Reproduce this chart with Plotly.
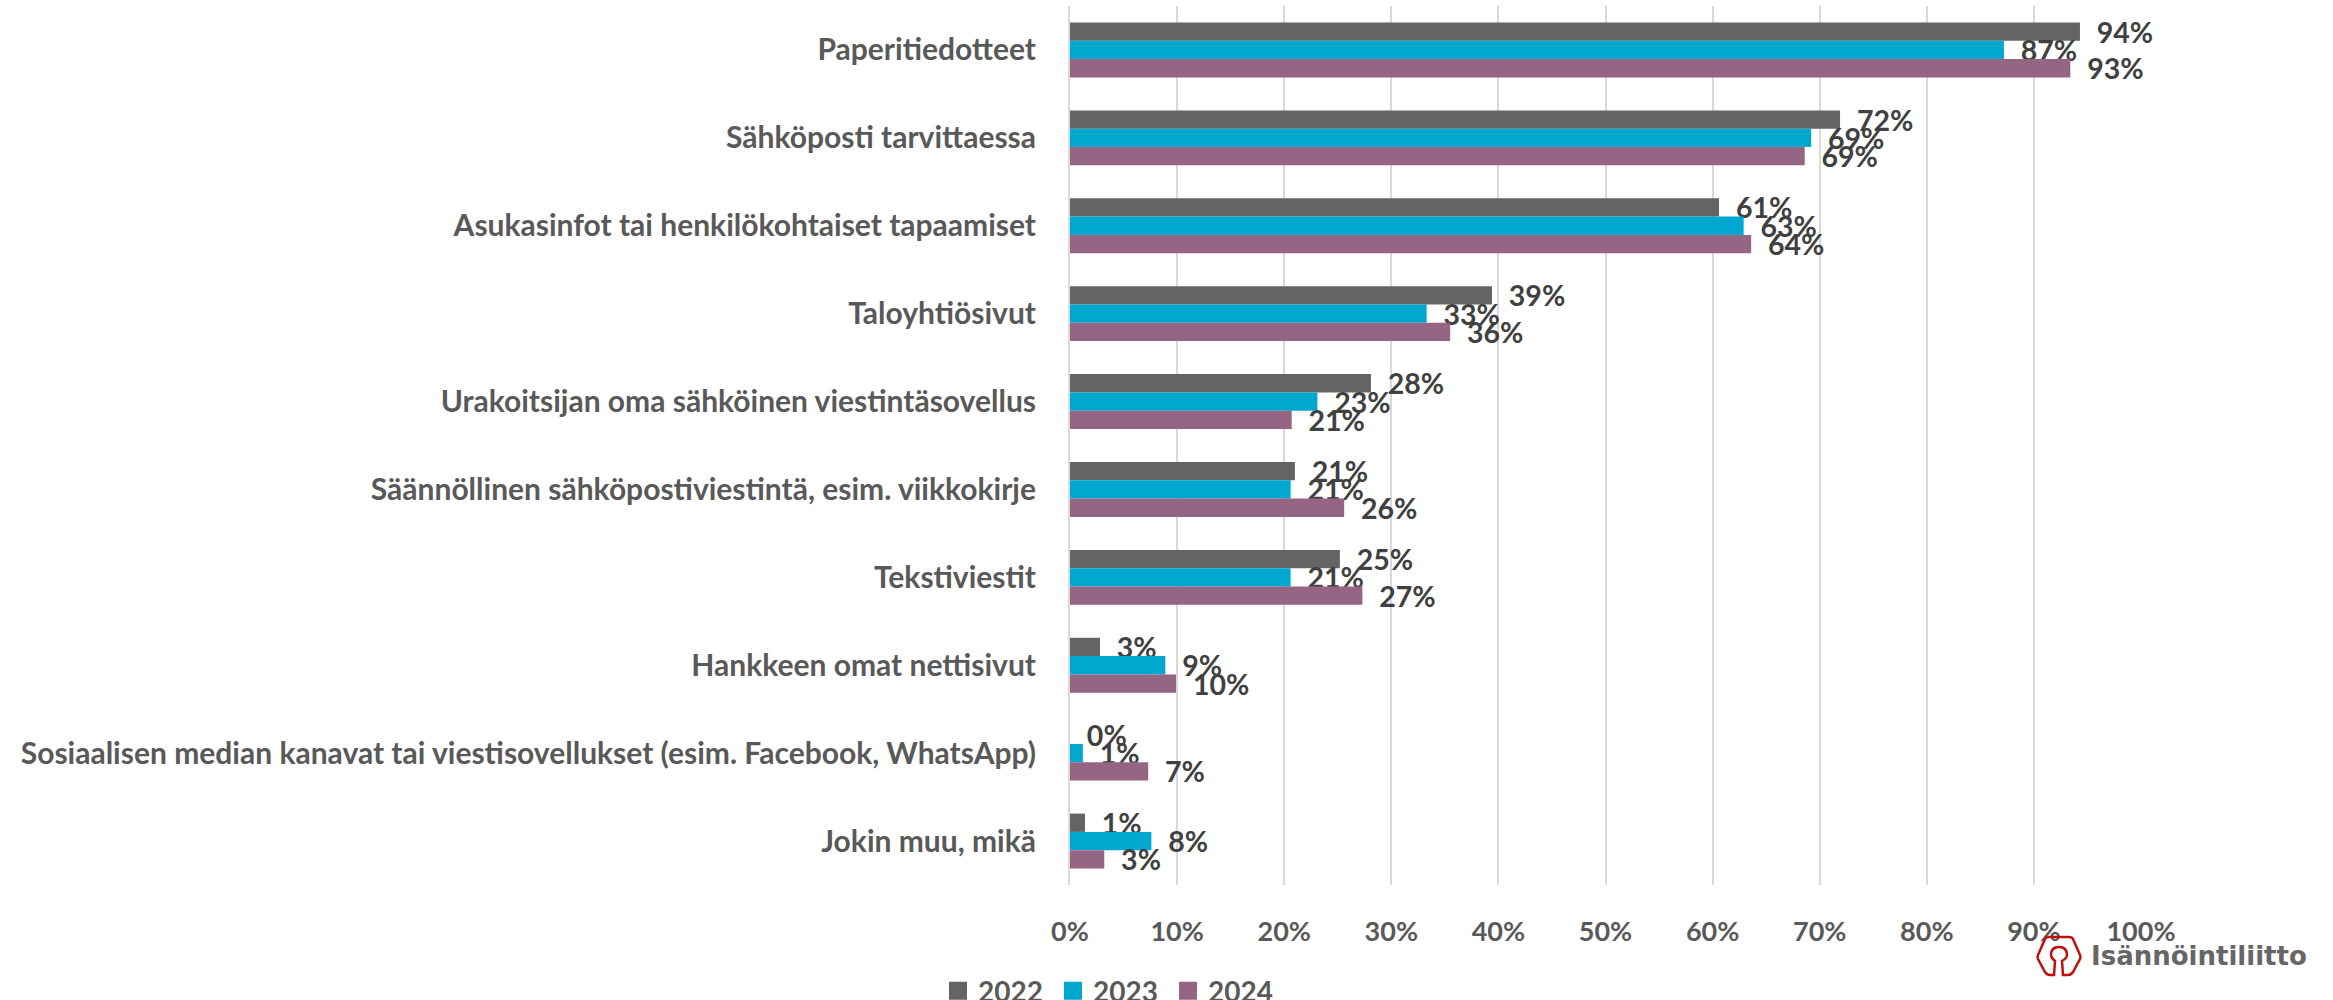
import plotly.graph_objects as go

categories = ["Paperitiedotteet", "Sähköposti tarvittaessa", "Asukasinfot tai henkilökohtaiset tapaamiset",
              "Taloyhtiösivut", "Urakoitsijan oma sähköinen viestintäsovellus",
              "Säännöllinen sähköpostiviestintä, esim. viikkokirje", "Tekstiviestit", "Hankkeen omat nettisivut",
              "Sosiaalisen median kanavat tai viestisovellukset (esim. Facebook, WhatsApp)", "Jokin muu, mikä"]
v2022 = [94.3, 71.9, 60.6, 39.4, 28.1, 21.0, 25.2, 2.8, 0.0, 1.4]
v2023 = [87.2, 69.2, 62.9, 33.3, 23.1, 20.6, 20.6, 8.9, 1.2, 7.6]
v2024 = [93.4, 68.6, 63.6, 35.5, 20.7, 25.6, 27.3, 9.9, 7.3, 3.2]
series = [("2022", v2022, "#646464"), ("2023", v2023, "#00A8D0"), ("2024", v2024, "#966584")]
W, H = 2333, 1000
FONT = "Lato"
GREY = "#595959"

fig = go.Figure()
for name, vals, col in series:
    fig.add_bar(name=name, y=categories, x=vals, orientation="h", marker=dict(color=col, line_width=0),
                text=["\u00a0\u00a0" + f"{v:.0f}%" for v in vals], textposition="outside", cliponaxis=False,
                constraintext="none", showlegend=False,
                textfont=dict(family=FONT, size=28.5, color="#404040", weight="bold"))
# Legend keys: same series, drawn as larger square keys like the reference
for name, vals, col in series:
    fig.add_scatter(name=name, x=[None], y=[None], mode="markers",
                    marker=dict(symbol="square", size=16, color=col, line=dict(color=col, width=2)))

M = dict(l=1070, r=W - 2141, t=6, b=H - 885)
fig.update_layout(
    width=W, height=H, margin=dict(**M, pad=0, autoexpand=False), barmode="group", bargap=0.375, bargroupgap=0,
    plot_bgcolor="white", paper_bgcolor="white", font=dict(family=FONT, color=GREY),
    xaxis=dict(range=[0, 100], dtick=10, ticksuffix="%", gridcolor="#D9D9D9", gridwidth=2, zeroline=False,
               showline=False, ticks="", ticklabelstandoff=28,
               tickfont=dict(family=FONT, size=27, color=GREY, weight="bold")),
    yaxis=dict(autorange="reversed", showgrid=False, showline=True, linecolor="#D9D9D9", linewidth=2, ticks="",
               ticklabelstandoff=26, tickfont=dict(family=FONT, size=30, color=GREY, weight="bold")),
    legend=dict(orientation="h", x=(938 - 1070) / 1071, xanchor="left", y=(885 - 966) / 879, yanchor="top",
                font=dict(family=FONT, size=28, color=GREY, weight="bold"), itemwidth=30,
                entrywidth=70, entrywidthmode="pixels", bgcolor="rgba(0,0,0,0)"),
)

# Logo (decoration), in paper coordinates from pixel positions
def px(x, y):
    return "%.5f,%.5f" % ((x - M["l"]) / (2141 - 1070), (885 - y) / (885 - 6))
path = ("M " + px(2049, 937) + " L " + px(2069, 937) + " Q " + px(2072, 937) + " " + px(2073, 939) +
        " L " + px(2080, 955) + " Q " + px(2081, 957) + " " + px(2080, 959) +
        " L " + px(2073, 972) + " Q " + px(2071, 975) + " " + px(2068, 975) +
        " L " + px(2063, 975) + " L " + px(2062, 961) + " Q " + px(2067, 958) + " " + px(2067, 955) +
        " Q " + px(2067, 947) + " " + px(2059, 947) + " Q " + px(2051, 947) + " " + px(2051, 955) +
        " Q " + px(2051, 958) + " " + px(2055, 961) + " L " + px(2054, 975) +
        " L " + px(2050, 975) + " Q " + px(2047, 975) + " " + px(2045, 972) +
        " L " + px(2038, 959) + " Q " + px(2037, 957) + " " + px(2038, 955) +
        " L " + px(2045, 939) + " Q " + px(2046, 937) + " " + px(2049, 937) + " Z")
fig.add_shape(type="path", path=path, xref="paper", yref="paper", line=dict(color="#C00D0D", width=2.5),
              fillcolor="rgba(0,0,0,0)")
fig.add_annotation(text="<b>Isännöintiliitto</b>", xref="paper", yref="paper",
                   x=(2199 - M["l"]) / 1071, y=(885 - 956) / 879, showarrow=False,
                   font=dict(family="DejaVu Sans", size=26, color="#666666"), xanchor="center", yanchor="middle")

fig.write_html("out.html", config=dict(displayModeBar=False),
               post_script="document.body.style.margin='0';document.body.style.overflow='hidden';")
